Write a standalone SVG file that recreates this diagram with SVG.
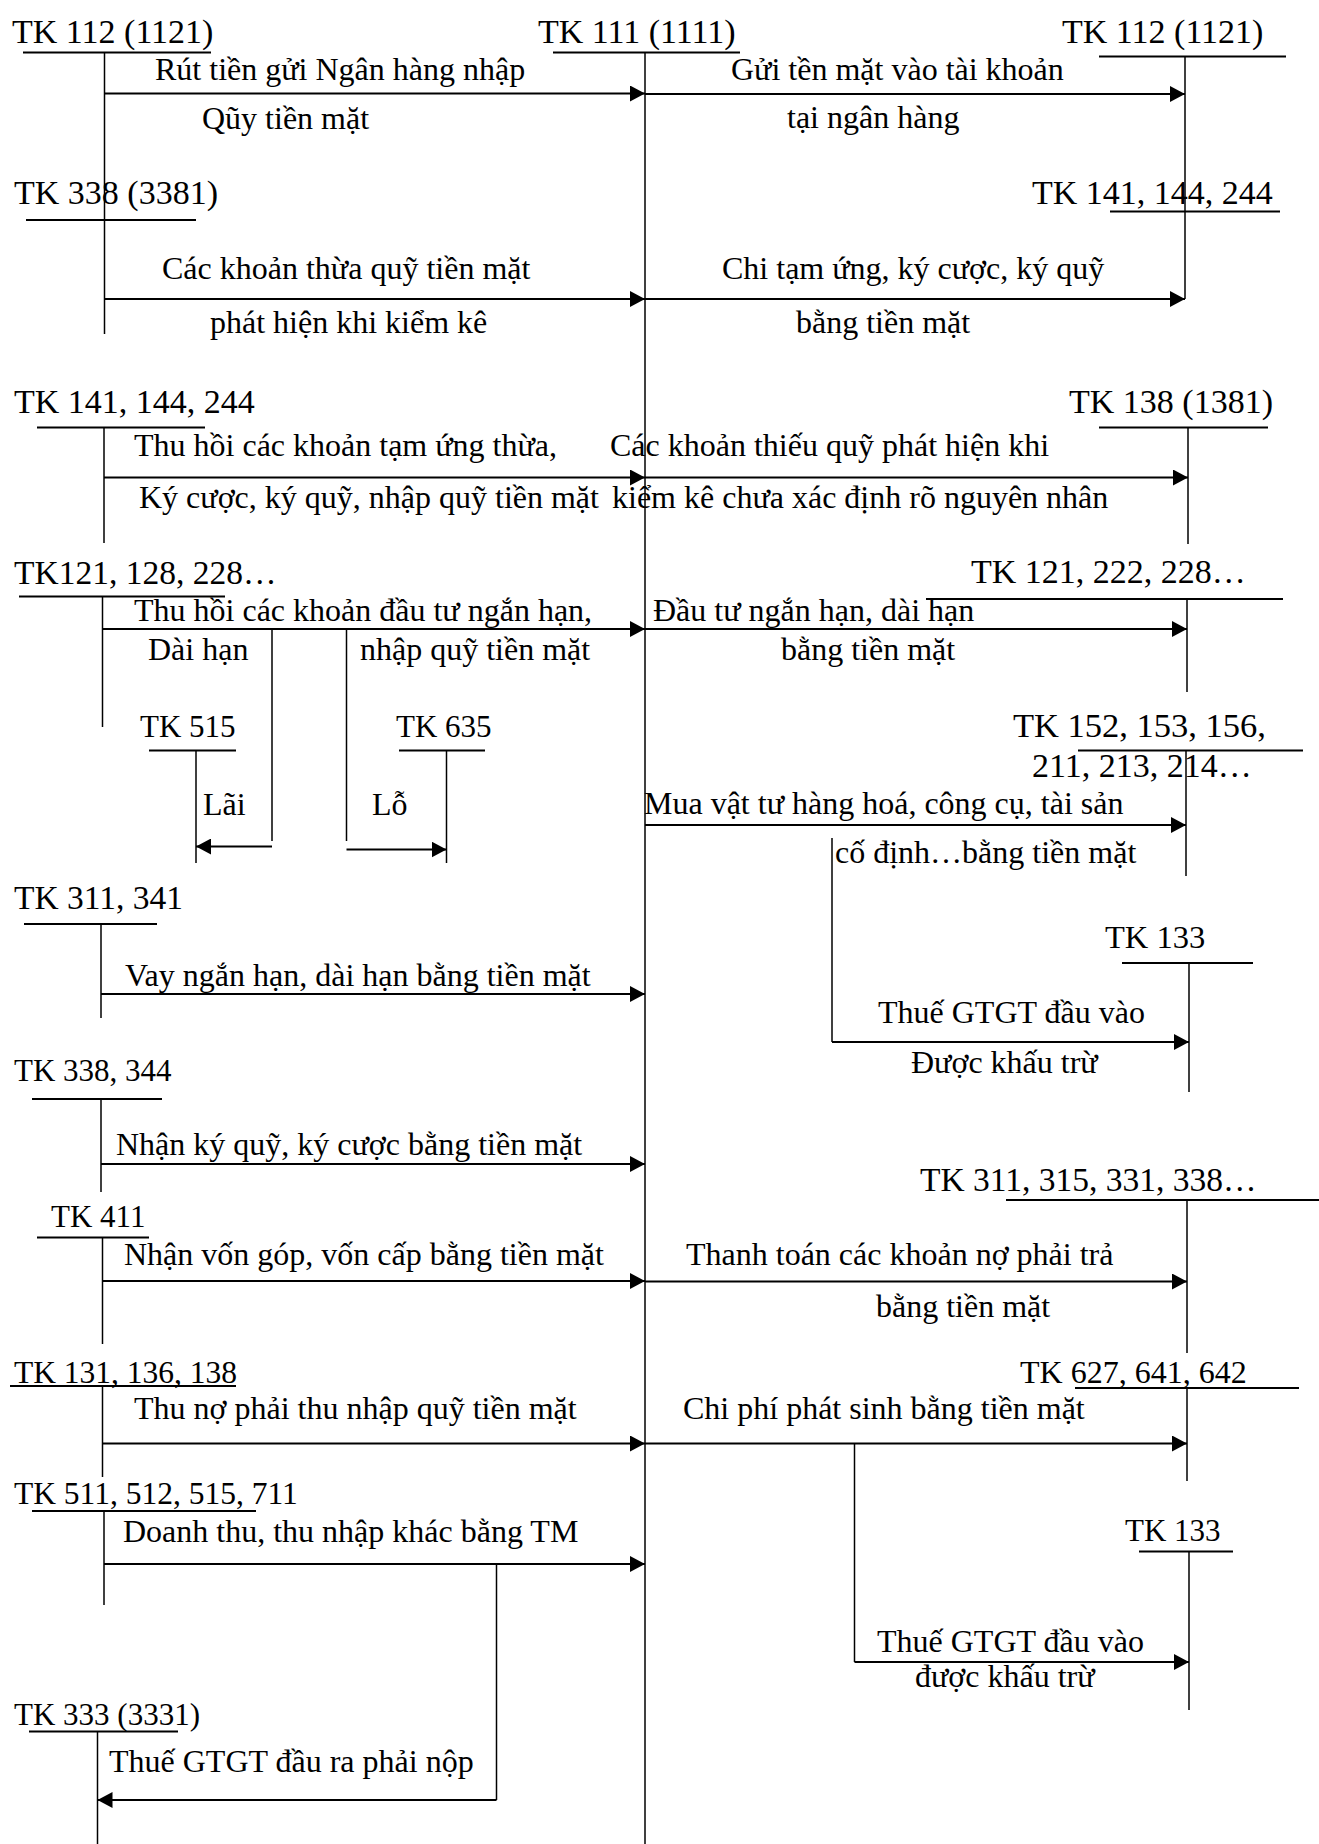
<svg xmlns="http://www.w3.org/2000/svg" width="1319" height="1844" viewBox="0 0 1319 1844">
<style>
text{font-family:"Liberation Serif","Times New Roman",serif;fill:#000}
.t{font-size:34px}
.s31{font-size:31px}
.s315{font-size:31.5px}
.s325{font-size:32.5px}
.s335{font-size:33.5px}
.s345{font-size:34.5px}
.l{font-size:32px}
.u{stroke:#000;stroke-width:2;fill:none}
.v{stroke:#000;stroke-width:1.5;fill:none}
.a{stroke:#000;stroke-width:2.2;fill:none;marker-end:url(#ah)}
</style>
<defs>
<marker id="ah" markerUnits="userSpaceOnUse" viewBox="0 0 15 16" refX="15" refY="8" markerWidth="15" markerHeight="16" orient="auto">
<path d="M0,0 L15,8 L0,16 Z" fill="#000"/>
</marker>
</defs>
<rect width="1319" height="1844" fill="#fff"/>

<g id="tk111">
<text class="t" x="538" y="43">TK 111 (1111)</text>
<line class="u" x1="553" y1="52.5" x2="740" y2="52.5"/>
<line class="v" x1="645" y1="52.5" x2="645" y2="1844"/>
</g>
<g id="tk112-left">
<text class="t" x="12" y="43">TK 112 (1121)</text>
<line class="u" x1="23" y1="52.5" x2="211" y2="52.5"/>
<line class="v" x1="104.5" y1="52.5" x2="104.5" y2="334"/>
</g>
<g id="tk112-right">
<text class="t" x="1062" y="43">TK 112 (1121)</text>
<line class="u" x1="1099" y1="56.5" x2="1286" y2="56.5"/>
<line class="v" x1="1185" y1="56.5" x2="1185" y2="299"/>
</g>
<g id="tk338-3381">
<text class="t" x="14" y="204">TK 338 (3381)</text>
<line class="u" x1="26" y1="220" x2="196" y2="220"/>
</g>
<g id="tk141-right">
<text class="t" x="1032" y="204">TK 141, 144, 244</text>
<line class="u" x1="1110" y1="211.5" x2="1280" y2="211.5"/>
</g>
<g id="tk141-left">
<text class="t" x="14" y="413">TK 141, 144, 244</text>
<line class="u" x1="37" y1="427.5" x2="205" y2="427.5"/>
<line class="v" x1="104" y1="427.5" x2="104" y2="543"/>
</g>
<g id="tk138">
<text class="t" x="1069" y="413">TK 138 (1381)</text>
<line class="u" x1="1099" y1="427.5" x2="1268" y2="427.5"/>
<line class="v" x1="1188" y1="427.5" x2="1188" y2="544"/>
</g>
<g id="tk121-left">
<text class="t s335" x="14" y="584">TK121, 128, 228…</text>
<line class="u" x1="19" y1="596.5" x2="225" y2="596.5"/>
<line class="v" x1="102.5" y1="596.5" x2="102.5" y2="727"/>
</g>
<g id="tk121-right">
<text class="t" x="971" y="583">TK 121, 222, 228…</text>
<line class="u" x1="926" y1="599" x2="1283" y2="599"/>
<line class="v" x1="1187" y1="599" x2="1187" y2="692"/>
</g>
<g id="tk515">
<text class="t s31" x="140" y="737">TK 515</text>
<line class="u" x1="149" y1="750.5" x2="236" y2="750.5"/>
<line class="v" x1="196" y1="750.5" x2="196" y2="863"/>
</g>
<g id="tk635">
<text class="t s31" x="396" y="737">TK 635</text>
<line class="u" x1="399" y1="750.5" x2="485" y2="750.5"/>
<line class="v" x1="446.5" y1="750.5" x2="446.5" y2="863"/>
</g>
<g id="tk152">
<text class="t s345" x="1013" y="737">TK 152, 153, 156,</text>
<text class="t" x="1032" y="777">211, 213, 214…</text>
<line class="u" x1="1078" y1="750.5" x2="1303" y2="750.5"/>
<line class="v" x1="1186" y1="750.5" x2="1186" y2="876"/>
</g>
<g id="tk311-341">
<text class="t s335" x="14" y="909">TK 311, 341</text>
<line class="u" x1="24" y1="924" x2="157" y2="924"/>
<line class="v" x1="101" y1="924" x2="101" y2="1018"/>
</g>
<g id="tk133-a">
<text class="t s325" x="1105" y="948">TK 133</text>
<line class="u" x1="1122" y1="963" x2="1253" y2="963"/>
<line class="v" x1="1189" y1="963" x2="1189" y2="1092"/>
</g>
<g id="tk338-344">
<text class="t s31" x="14" y="1081">TK 338, 344</text>
<line class="u" x1="32" y1="1099" x2="162" y2="1099"/>
<line class="v" x1="101" y1="1099" x2="101" y2="1192"/>
</g>
<g id="tk311-315">
<text class="t s335" x="920" y="1191">TK 311, 315, 331, 338…</text>
<line class="u" x1="1006" y1="1200" x2="1319" y2="1200"/>
<line class="v" x1="1187" y1="1200" x2="1187" y2="1353"/>
</g>
<g id="tk411">
<text class="t s31" x="51" y="1227">TK 411</text>
<line class="u" x1="37" y1="1237.5" x2="149" y2="1237.5"/>
<line class="v" x1="102.5" y1="1237.5" x2="102.5" y2="1344"/>
</g>
<g id="tk131">
<text class="t s315" x="14" y="1383">TK 131, 136, 138</text>
<line class="u" x1="10" y1="1386" x2="236" y2="1386"/>
<line class="v" x1="102.5" y1="1386" x2="102.5" y2="1477"/>
</g>
<g id="tk627">
<text class="t" style="font-size:32px" x="1020" y="1383">TK 627, 641, 642</text>
<line class="u" x1="1075" y1="1388" x2="1299" y2="1388"/>
<line class="v" x1="1187" y1="1388" x2="1187" y2="1481"/>
</g>
<g id="tk511">
<text class="t s315" x="14" y="1504">TK 511, 512, 515, 711</text>
<line class="u" x1="32" y1="1511" x2="256" y2="1511"/>
<line class="v" x1="104" y1="1511" x2="104" y2="1605"/>
</g>
<g id="tk133-b">
<text class="t s31" x="1125" y="1541">TK 133</text>
<line class="u" x1="1139" y1="1551.5" x2="1233" y2="1551.5"/>
<line class="v" x1="1189" y1="1551.5" x2="1189" y2="1710"/>
</g>
<g id="tk333">
<text class="t s31" x="14" y="1725">TK 333 (3331)</text>
<line class="u" x1="29" y1="1731.5" x2="178" y2="1731.5"/>
<line class="v" x1="97.5" y1="1731.5" x2="97.5" y2="1844"/>
</g>

<g id="connectors">
<line class="a" x1="104.5" y1="93.5" x2="645" y2="93.5"/>
<line class="a" x1="645" y1="94" x2="1185" y2="94"/>
<line class="a" x1="104.5" y1="299" x2="645" y2="299"/>
<line class="a" x1="645" y1="299" x2="1185" y2="299"/>
<line class="a" x1="104" y1="477.5" x2="645" y2="477.5"/>
<line class="a" x1="645" y1="477.5" x2="1188" y2="477.5"/>
<line class="a" x1="102.5" y1="629" x2="645" y2="629"/>
<line class="a" x1="645" y1="629" x2="1187" y2="629"/>
<line class="v" x1="272" y1="629" x2="272" y2="841"/>
<line class="v" x1="346.5" y1="629" x2="346.5" y2="841"/>
<line class="a" x1="272" y1="846.5" x2="196" y2="846.5"/>
<line class="a" x1="346.5" y1="849.5" x2="446.5" y2="849.5"/>
<line class="a" x1="645" y1="825" x2="1186" y2="825"/>
<line class="v" x1="832" y1="838" x2="832" y2="1042"/>
<line class="a" x1="832" y1="1042" x2="1189" y2="1042"/>
<line class="a" x1="101" y1="994" x2="645" y2="994"/>
<line class="a" x1="101" y1="1164" x2="645" y2="1164"/>
<line class="a" x1="102.5" y1="1281" x2="645" y2="1281"/>
<line class="a" x1="645" y1="1281.5" x2="1187" y2="1281.5"/>
<line class="a" x1="102.5" y1="1443.5" x2="645" y2="1443.5"/>
<line class="a" x1="645" y1="1443.5" x2="1187" y2="1443.5"/>
<line class="v" x1="854.5" y1="1443.5" x2="854.5" y2="1662"/>
<line class="a" x1="854.5" y1="1662" x2="1189" y2="1662"/>
<line class="a" x1="104" y1="1564" x2="645" y2="1564"/>
<line class="v" x1="496.5" y1="1564" x2="496.5" y2="1800"/>
<line class="a" x1="496.5" y1="1800" x2="97.5" y2="1800"/>
</g>

<g id="labels">
<text class="l" x="155" y="80">Rút tiền gửi Ngân hàng nhập</text>
<text class="l" x="202" y="129">Qũy tiền mặt</text>
<text class="l" x="731" y="80">Gửi tền mặt vào tài khoản</text>
<text class="l" x="787" y="128">tại ngân hàng</text>
<text class="l" x="162" y="279">Các khoản thừa quỹ tiền mặt</text>
<text class="l" x="210" y="333">phát hiện khi kiểm kê</text>
<text class="l" x="722" y="279">Chi tạm ứng, ký cược, ký quỹ</text>
<text class="l" x="796" y="333">bằng tiền mặt</text>
<text class="l" x="134" y="456">Thu hồi các khoản tạm ứng thừa,</text>
<text class="l" x="139" y="508">Ký cược, ký quỹ, nhập quỹ tiền mặt</text>
<text class="l" x="610" y="456">Các khoản thiếu quỹ phát hiện khi</text>
<text class="l" x="612" y="508">kiểm kê chưa xác định rõ nguyên nhân</text>
<text class="l" x="134" y="621">Thu hồi các khoản đầu tư ngắn hạn,</text>
<text class="l" x="148" y="660">Dài hạn</text>
<text class="l" x="360" y="660">nhập quỹ tiền mặt</text>
<text class="l" x="653" y="621">Đầu tư ngắn hạn, dài hạn</text>
<text class="l" x="781" y="660">bằng tiền mặt</text>
<text class="l" x="203" y="815">Lãi</text>
<text class="l" x="372" y="815">Lỗ</text>
<text class="l" x="644" y="814">Mua vật tư hàng hoá, công cụ, tài sản</text>
<text class="l" x="835" y="863">cố định…bằng tiền mặt</text>
<text class="l" x="125" y="986">Vay ngắn hạn, dài hạn bằng tiền mặt</text>
<text class="l" x="878" y="1023">Thuế GTGT đầu vào</text>
<text class="l" x="911" y="1073">Được khấu trừ</text>
<text class="l" x="116" y="1155">Nhận ký quỹ, ký cược bằng tiền mặt</text>
<text class="l" x="124" y="1265">Nhận vốn góp, vốn cấp bằng tiền mặt</text>
<text class="l" x="686" y="1265">Thanh toán các khoản nợ phải trả</text>
<text class="l" x="876" y="1317">bằng tiền mặt</text>
<text class="l" x="134" y="1419">Thu nợ phải thu nhập quỹ tiền mặt</text>
<text class="l" x="683" y="1419">Chi phí phát sinh bằng tiền mặt</text>
<text class="l" x="123" y="1542">Doanh thu, thu nhập khác bằng TM</text>
<text class="l" x="877" y="1652">Thuế GTGT đầu vào</text>
<text class="l" x="915" y="1687">được khấu trừ</text>
<text class="l" x="109" y="1772">Thuế GTGT đầu ra phải nộp</text>
</g>
</svg>
